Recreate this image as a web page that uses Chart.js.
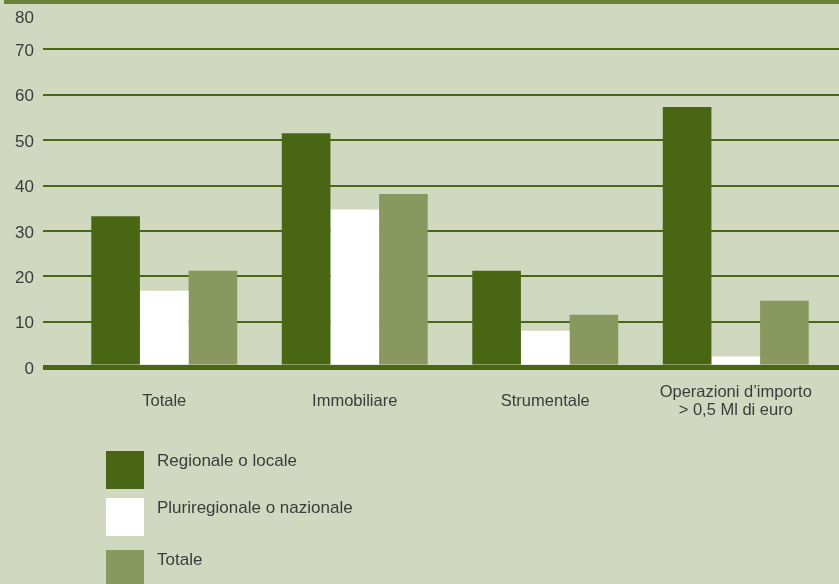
<!DOCTYPE html>
<html>
<head>
<meta charset="utf-8">
<script src="https://cdn.jsdelivr.net/npm/chart.js@4/dist/chart.umd.min.js"></script>
<style>
  html, body { margin: 0; padding: 0; background: #d0d9bf; }
  #wrap { position: relative; width: 839px; height: 584px; overflow: hidden; font-family: "Liberation Sans", Arial, sans-serif; }
  #fascia { position: absolute; left: 4px; top: 0; width: 835px; height: 4px; background: #6b823b; }
  #legenda { position: absolute; left: 106px; top: 451px; }
  .voce { display: flex; align-items: flex-start; height: 38px; }
  .voce:nth-child(2) { margin-top: 9px; }
  .voce:nth-child(3) { margin-top: 14px; }
  .quadrato { width: 38px; height: 38px; }
  .testo { margin-left: 13px; font-size: 17px; line-height: 20px; color: #3c3c3c; }
</style>
</head>
<body>
<div id="wrap">
  <canvas id="grafico" width="839" height="584"></canvas>
  <div id="fascia"></div>
  <div id="legenda"></div>
</div>
<script>
const categorie = ["Totale", "Immobiliare", "Strumentale", ["Operazioni d\u2019importo", "> 0,5 Ml di euro"]];
const regionale = [33.2, 51.5, 21.2, 57.3];
const pluriregionale = [16.8, 34.7, 8.0, 2.3];
const totale = [21.2, 38.1, 11.5, 14.6];

const verdeScuro = "#486614";
const verdeChiaro = "#88985e";
const coloreGriglia = "#4a6814";
const coloreTesto = "#3c3c3c";
const fontBase = "'Liberation Sans', Arial, sans-serif";

// la linea dell'80 coincide con la fascia in alto, quella dello zero e' piu' spessa
const coloreLinea = (ctx) => (ctx.tick && ctx.tick.value === 80 ? "rgba(0,0,0,0)" : coloreGriglia);
const spessoreLinea = (ctx) => (ctx.tick && ctx.tick.value === 0 ? 5 : 2);

// niente margini extra per le etichette: l'area del grafico resta fissa
const senzaMargini = (scale) => {
  scale.paddingTop = 0;
  scale.paddingBottom = 0;
  scale.paddingLeft = 0;
  scale.paddingRight = 0;
};

const data = {
  labels: categorie,
  datasets: [
    { label: "Regionale o locale", data: regionale, backgroundColor: verdeScuro },
    { label: "Pluriregionale o nazionale", data: pluriregionale, backgroundColor: "#ffffff" },
    { label: "Totale", data: totale, backgroundColor: verdeChiaro },
  ],
};

const config = {
  type: "bar",
  data,
  options: {
    responsive: false,
    animation: false,
    devicePixelRatio: 1,
    layout: { padding: { top: 4, left: 0, right: 0, bottom: 0 } },
    datasets: {
      bar: { categoryPercentage: 0.766, barPercentage: 1.0, borderWidth: 0 },
    },
    plugins: {
      legend: { display: false },
      tooltip: { enabled: false },
    },
    scales: {
      x: {
        z: 1,
        grid: { display: false, drawTicks: false },
        border: { display: true, color: coloreGriglia, width: 5 },
        ticks: {
          color: coloreTesto,
          font: { family: fontBase, size: 16.5, lineHeight: "18px" },
          padding: 25,
          crossAlign: "center",
          maxRotation: 0,
          autoSkip: false,
        },
        afterFit: (scale) => {
          scale.height = 217;
          senzaMargini(scale);
        },
      },
      y: {
        min: 0,
        max: 80,
        grid: {
          color: coloreLinea,
          lineWidth: spessoreLinea,
          tickColor: coloreLinea,
          tickWidth: spessoreLinea,
          tickLength: 26,
        },
        border: { display: false },
        ticks: {
          stepSize: 10,
          autoSkip: false,
          padding: 9,
          labelOffset: 2,
          color: coloreTesto,
          // l'etichetta 80 scende sotto la fascia
          callback: (v) => (v === 80 ? ["", "80"] : String(v)),
          font: (ctx) => ({
            family: fontBase,
            size: 17,
            lineHeight: ctx.tick && ctx.tick.value === 80 ? "24px" : "20px",
          }),
        },
        afterFit: (scale) => {
          scale.width = 69;
          senzaMargini(scale);
        },
      },
      // solo i trattini a destra, per far arrivare le linee fino al bordo
      yDestra: {
        position: "right",
        min: 0,
        max: 80,
        grid: {
          drawOnChartArea: false,
          drawTicks: true,
          tickLength: 8,
          color: coloreLinea,
          lineWidth: spessoreLinea,
          tickColor: coloreLinea,
          tickWidth: spessoreLinea,
        },
        border: { display: false },
        ticks: { stepSize: 10, autoSkip: false, display: false },
        afterFit: (scale) => {
          scale.width = 8;
          senzaMargini(scale);
        },
      },
    },
  },
};

const grafico = new Chart(document.getElementById("grafico"), config);

// legenda in colonna costruita dai dataset
const legenda = document.getElementById("legenda");
grafico.data.datasets.forEach((ds) => {
  const voce = document.createElement("div");
  voce.className = "voce";
  voce.innerHTML = `<div class="quadrato" style="background:${ds.backgroundColor}"></div><div class="testo">${ds.label}</div>`;
  legenda.appendChild(voce);
});
</script>
</body>
</html>
